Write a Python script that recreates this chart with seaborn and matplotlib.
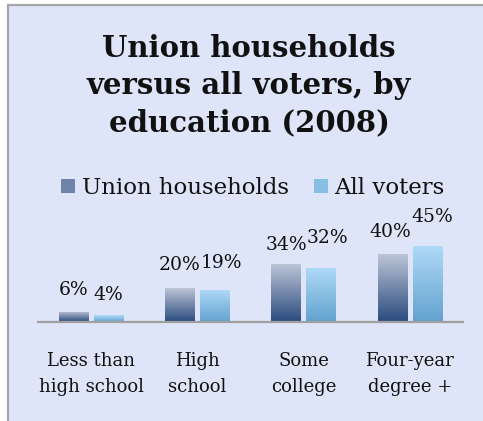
import numpy as np
import pandas as pd
import matplotlib
matplotlib.use("Agg")
import matplotlib.pyplot as plt
from matplotlib.colors import to_rgba
from matplotlib.patches import Rectangle, Patch
import seaborn as sns

# ---- data -------------------------------------------------------------
categories = ["Less than\nhigh school", "High\nschool", "Some\ncollege", "Four-year\ndegree +"]
series_names = ["Union households", "All voters"]
union_households = [0.06, 0.20, 0.34, 0.40]
all_voters = [0.04, 0.19, 0.32, 0.45]
title = "Union households\nversus all voters, by\neducation (2008)"

df = pd.DataFrame({
    "category": categories * 2,
    "series": [series_names[0]] * 4 + [series_names[1]] * 4,
    "share": union_households + all_voters,
})

# ---- styling ----------------------------------------------------------
sns.set_theme(style="white")
plt.rcParams["font.family"] = ["DejaVu Serif"]

bg = "#DFE5F8"
grad = {
    series_names[0]: ("#BCC4D6", "#2A4B7E"),
    series_names[1]: ("#B0DAF8", "#62A2CE"),
}
mid = {
    series_names[0]: "#6F83A8",
    series_names[1]: "#87BEE4",
}

W, H = 483, 421
fig = plt.figure(figsize=(W / 100, H / 100), dpi=100, facecolor="white")

# chart panel with a thin grey frame
fig.add_artist(Rectangle((7.5 / W, -0.1), 1.2, 1.1 - 5.5 / H,
                         transform=fig.transFigure, facecolor=bg,
                         edgecolor="#A6A6A6", linewidth=1.6, zorder=0))

ax = fig.add_axes([38 / W, (H - 322) / H, (463 - 38) / W, 85 / H])
ax.set_facecolor("none")

sns.barplot(data=df, x="category", y="share", hue="series",
            hue_order=series_names, order=categories,
            palette=mid, width=0.66, gap=0.16, legend=False, ax=ax,
            edgecolor="none", saturation=1)

# vertical gradient fill on each bar
bars = [p for p in ax.patches if p.get_height() > 0]
mids = {k: np.array(to_rgba(v)[:3]) for k, v in mid.items()}
for p in bars:
    fc = np.array(p.get_facecolor()[:3])
    key = min(mids, key=lambda k: np.sum((mids[k] - fc) ** 2))
    top, bot = np.array(to_rgba(grad[key][0])), np.array(to_rgba(grad[key][1]))
    t = np.linspace(0, 1, 128)[:, None]
    img = (top * (1 - t) + bot * t)[:, None, :]
    x0, y0 = p.get_x(), p.get_y()
    im = ax.imshow(img, extent=[x0, x0 + p.get_width(), y0, y0 + p.get_height()],
                   aspect="auto", origin="upper", zorder=p.get_zorder() + 0.1,
                   interpolation="bilinear")
    im.set_clip_path(p)

ax.set_xlim(-0.5, len(categories) - 0.5)
ax.set_ylim(0, 0.5)

# value labels (small nudges keep neighbouring labels apart)
nudges = {
    series_names[0]: [(0, 22), (0, 23), (0, 19), (-2, 22)],
    series_names[1]: [(0, 20), (7, 27), (6, 30), (5, 28)],
}
slot = 0.33
for j, name in enumerate(series_names):
    vals = union_households if j == 0 else all_voters
    for i, v in enumerate(vals):
        xc = i + (j - 0.5) * slot
        dx, dy = nudges[name][i]
        ax.annotate(f"{round(v * 100)}%", (xc, v), xytext=(dx * 0.72, dy * 0.72),
                    textcoords="offset points", ha="center", va="center",
                    fontsize=13.5, color="#111111", annotation_clip=False)

for s in ["top", "right", "left"]:
    ax.spines[s].set_visible(False)
ax.spines["bottom"].set_color("#A0A0A0")
ax.spines["bottom"].set_linewidth(1.6)
ax.set_yticks([])
ax.set_xlabel("")
ax.set_ylabel("")
ax.tick_params(axis="x", length=0, pad=21.5, labelsize=13, labelcolor="#111111")
for lab in ax.get_xticklabels():
    lab.set_multialignment("center")
    lab.set_linespacing(1.6)

fig.text(249 / W, 1 - 86 / H, title, ha="center", va="center",
         fontsize=21, fontweight="bold", color="#111111", linespacing=1.36)

handles = [Patch(facecolor=mid[n], edgecolor="none") for n in series_names]
fig.legend(handles, series_names, loc="center", bbox_to_anchor=(253 / W, 1 - 188 / H),
           ncol=2, frameon=False, fontsize=16.5, handlelength=0.6, handleheight=0.6,
           handletextpad=0.3, columnspacing=1.1, labelcolor="#111111")

fig.savefig("out.png", dpi=100, facecolor="white")
